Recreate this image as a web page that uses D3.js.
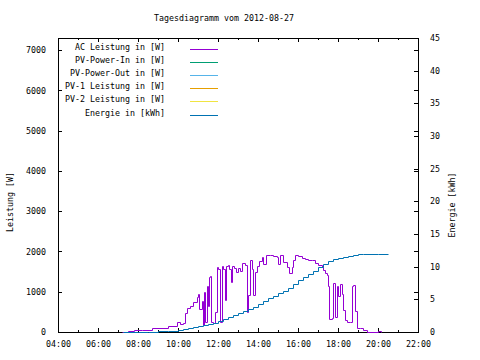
<!DOCTYPE html>
<html>
<head>
<meta charset="utf-8">
<script src="https://cdn.jsdelivr.net/npm/d3@7"></script>
<style>
  body { margin: 0; background: #fff; }
  svg { display: block; }
  text { font-family: "DejaVu Sans Mono", "Liberation Mono", monospace; font-size: 8.3px; fill: #000; }
</style>
</head>
<body>
<div id="viz"></div>
<script>
// AC Leistung [W] (purple)
var acTimes = ["07:11","07:31","07:48","08:11","08:41","09:30","09:57","10:06","10:16","10:21","10:28","10:36","10:45","10:56","11:00","11:04","11:11","11:14","11:18","11:22","11:26","11:29","11:32","11:36","11:39","11:44","11:51","11:56","12:01","12:06","12:11","12:16","12:21","12:24","12:29","12:34","12:38","12:41","12:48","12:54","13:00","13:06","13:11","13:21","13:26","13:31","13:36","13:41","13:46","13:51","13:56","14:04","14:11","14:16","14:24","14:36","14:46","14:56","15:01","15:06","15:16","15:26","15:34","15:41","15:46","15:51","16:01","16:11","16:21","16:31","16:41","16:51","17:01","17:11","17:16","17:21","17:26","17:29","17:33","17:41","17:46","17:51","17:56","18:01","18:06","18:11","18:16","18:21","18:26","18:36","18:41","18:46","18:51","18:56","19:06","19:16","19:26","20:00","20:09"];
var acValues = [0,25,50,60,90,140,240,200,230,480,600,650,750,875,940,560,780,170,1000,250,1130,650,1360,1380,260,215,500,1620,1560,250,1650,1570,790,1640,1660,1560,1250,1640,1600,1480,1590,1520,1720,1660,500,915,1790,1560,915,1480,1640,1760,1870,1700,1910,1910,1880,1860,1700,1910,1740,1620,1455,1620,1790,1910,1890,1830,1820,1790,1780,1720,1660,1620,1540,1455,1420,1130,330,340,1210,380,1130,900,1200,940,550,300,255,255,1130,1170,530,90,90,60,0,20,0];

// Energie [kWh] (blue, right axis)
var enTimes = ["07:15","08:00","08:30","09:00","09:30","10:00","10:15","10:30","10:45","11:00","11:15","11:30","11:45","12:00","12:15","12:30","12:45","13:00","13:15","13:30","13:45","14:00","14:15","14:30","14:45","15:00","15:15","15:30","15:45","16:00","16:15","16:30","16:45","17:00","17:15","17:30","17:45","18:00","18:15","18:30","18:45","19:00","19:15","20:00","20:30"];
var enValues = [0,0.02,0.05,0.1,0.18,0.3,0.4,0.55,0.7,0.87,1.05,1.25,1.45,1.7,1.97,2.3,2.6,2.85,3.2,3.5,3.85,4.25,4.7,5.15,5.45,5.9,6.35,6.8,7.4,7.9,8.4,8.85,9.35,9.9,10.4,10.9,11.15,11.35,11.5,11.65,11.78,11.87,11.92,11.95,11.95];

// series without data on this day
var pvInValues = [];
var pvOutValues = [];
var pv1Values = [];
var pv2Values = [];

var legendNames = ["AC Leistung in [W]", "PV-Power-In in [W]", "PV-Power-Out in [W]", "PV-1 Leistung in [W]", "PV-2 Leistung in [W]", "Energie in [kWh]"];
var legendColors = ["#9400d3", "#009e73", "#56b4e9", "#e69f00", "#f0e442", "#0072b2"];

var yTicks = [0, 1000, 2000, 3000, 4000, 5000, 6000, 7000];
var y2Ticks = [0, 5, 10, 15, 20, 25, 30, 35, 40, 45];
var xTickHours = [4, 6, 8, 10, 12, 14, 16, 18, 20, 22];

var width = 480, height = 360;
var margin = {top: 38, right: 62, bottom: 28, left: 58};

var parseTime = d3.utcParse("%Y-%m-%d %H:%M");
var day = "2012-08-27";
function t(s) { return parseTime(day + " " + s); }
function hr(h) { return parseTime(day + " " + d3.format("02")(h) + ":00"); }

var x = d3.scaleUtc()
  .domain([hr(4), hr(22)])
  .range([margin.left, width - margin.right]);

var y = d3.scaleLinear()
  .domain([0, 7300])
  .range([height - margin.bottom, margin.top]);

var y2 = d3.scaleLinear()
  .domain([0, 45])
  .range([height - margin.bottom, margin.top]);

var svg = d3.select("#viz").append("svg")
  .attr("width", width)
  .attr("height", height);

var bottom = height - margin.bottom, right = width - margin.right;

// title
svg.append("text")
  .attr("x", 224).attr("y", 20.5)
  .attr("text-anchor", "middle")
  .text("Tagesdiagramm vom 2012-08-27");

// x axis (bottom, labelled) + minor ticks
var majorX = xTickHours.map(hr);
var minorX = d3.range(5, 22, 2).map(hr);

svg.append("g")
  .attr("transform", "translate(0," + bottom + ")")
  .call(d3.axisBottom(x).tickValues(majorX).tickSize(-4).tickPadding(9)
    .tickFormat(d3.utcFormat("%H:%M")))
  .select(".domain").remove();

svg.append("g")
  .attr("transform", "translate(0," + bottom + ")")
  .call(d3.axisBottom(x).tickValues(minorX).tickSize(-2).tickFormat(""))
  .select(".domain").remove();

// x ticks mirrored on top
svg.append("g")
  .attr("transform", "translate(0," + margin.top + ")")
  .call(d3.axisTop(x).tickValues(majorX).tickSize(-4).tickFormat(""))
  .select(".domain").remove();
svg.append("g")
  .attr("transform", "translate(0," + margin.top + ")")
  .call(d3.axisTop(x).tickValues(minorX).tickSize(-2).tickFormat(""))
  .select(".domain").remove();

// left y axis
svg.append("g")
  .attr("transform", "translate(" + margin.left + ",0)")
  .call(d3.axisLeft(y).tickValues(yTicks).tickSize(-4).tickPadding(12).tickFormat(d3.format("d")))
  .select(".domain").remove();

// left ticks mirrored on the right border
svg.append("g")
  .attr("transform", "translate(" + right + ",0)")
  .call(d3.axisRight(y).tickValues(yTicks.slice(1)).tickSize(-4).tickFormat(""))
  .select(".domain").remove();

// right y2 axis (Energie)
svg.append("g")
  .attr("transform", "translate(" + right + ",0)")
  .call(d3.axisRight(y2).tickValues(y2Ticks).tickSize(-4).tickPadding(12).tickFormat(d3.format("d")))
  .select(".domain").remove();

svg.selectAll(".tick line").attr("shape-rendering", "crispEdges");
svg.selectAll(".tick text").style("font-size", "8.3px").style("font-family", "DejaVu Sans Mono, monospace");

// frame
svg.append("rect")
  .attr("x", margin.left + 0.5).attr("y", margin.top + 0.5)
  .attr("width", right - margin.left).attr("height", bottom - margin.top)
  .attr("fill", "none").attr("stroke", "#000").attr("stroke-width", 1)
  .attr("shape-rendering", "crispEdges");

// axis titles
svg.append("text")
  .attr("transform", "translate(10,202) rotate(-90)")
  .attr("text-anchor", "middle").attr("dominant-baseline", "central")
  .text("Leistung [W]");
svg.append("text")
  .attr("transform", "translate(452,205) rotate(-90)")
  .attr("text-anchor", "middle").attr("dominant-baseline", "central")
  .text("Energie [kWh]");

// data lines (snapped to pixel centres like the bitmap original)
var acData = acTimes.map(function(s, i) { return {date: t(s), v: acValues[i]}; });
var enData = enTimes.map(function(s, i) { return {date: t(s), v: enValues[i]}; });

function px(v) { return Math.round(v) + 0.5; }

var acLine = d3.line().curve(d3.curveStepAfter)
  .x(d => px(x(d.date))).y(d => px(y(d.v)));
var enLine = d3.line().curve(d3.curveStepAfter)
  .x(d => px(x(d.date))).y(d => px(y2(d.v)));

[pvInValues, pvOutValues, pv1Values, pv2Values].forEach(function(vals, i) {
  if (!vals.length) return;
  svg.append("path").datum(vals).attr("fill", "none")
    .attr("stroke", legendColors[i + 1]).attr("d", acLine);
});

svg.append("path")
  .datum(acData)
  .attr("fill", "none")
  .attr("stroke", legendColors[0])
  .attr("stroke-width", 1)
  .attr("d", acLine);

svg.append("path")
  .datum(enData)
  .attr("fill", "none")
  .attr("stroke", legendColors[5])
  .attr("stroke-width", 1)
  .attr("d", enLine);

// legend
var legend = svg.append("g").attr("class", "legend");
legendNames.forEach(function(name, i) {
  var ly = 47 + i * 13.1;
  legend.append("text")
    .attr("x", 165).attr("y", ly + 3)
    .attr("text-anchor", "end")
    .text(name);
  legend.append("line")
    .attr("x1", 190).attr("x2", 218)
    .attr("y1", Math.round(ly + 2) + 0.5).attr("y2", Math.round(ly + 2) + 0.5)
    .attr("stroke", legendColors[i]).attr("stroke-width", 1);
});
</script>
</body>
</html>
